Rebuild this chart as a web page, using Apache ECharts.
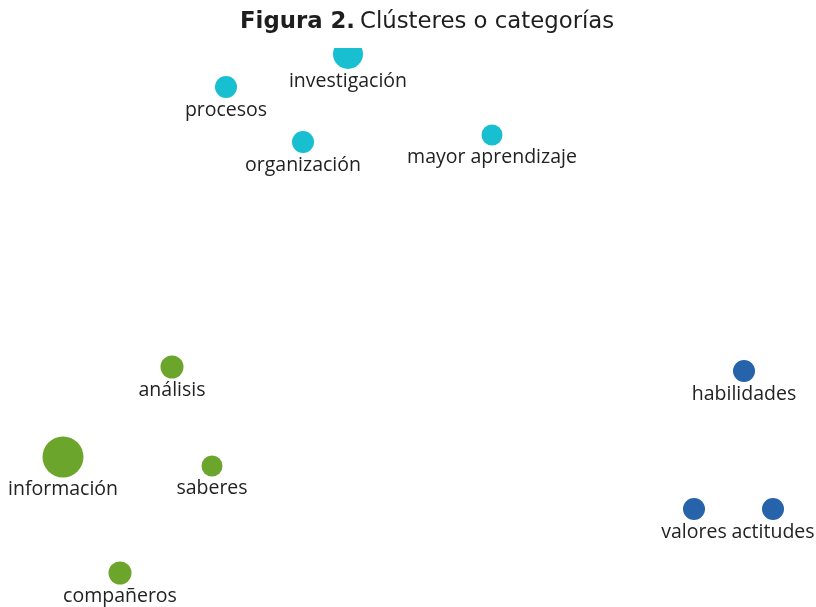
<!DOCTYPE html>
<html>
<head>
<meta charset="utf-8">
<script src="https://cdn.jsdelivr.net/npm/echarts@6/dist/echarts.min.js"></script>
<style>
  html, body { margin: 0; padding: 0; background: #fff; }
  #chart { width: 816px; height: 607px; }
</style>
</head>
<body>
<div id="chart"></div>
<script>
// cluster terms, positions (map space), and bubble weight
const cyanTerms = ['investigación', 'procesos', 'organización', 'mayor aprendizaje'];
const cyanX = [348, 226, 303, 492];
const cyanY = [54, 87, 142, 135];
const cyanW = [30, 22, 22, 21];

const greenTerms = ['análisis', 'información', 'saberes', 'compañeros'];
const greenX = [172, 63, 212, 120];
const greenY = [367, 457, 466, 573];
const greenW = [23, 41, 21, 23];

const blueTerms = ['habilidades', 'valores', 'actitudes'];
const blueX = [744, 694, 773];
const blueY = [371, 509, 509];
const blueW = [22, 22, 22];

const chart = echarts.init(document.getElementById('chart'));

function makeSeries(name, terms, xs, ys, ws, color) {
  return {
    name: name,
    type: 'scatter',
    data: terms.map((t, i) => ({ name: t, value: [xs[i], ys[i], ws[i]] })),
    symbolSize: (v) => v[2],
    itemStyle: { color: color, opacity: 1 },
    label: {
      show: true,
      position: 'bottom',
      distance: 2,
      formatter: '{b}',
      color: '#222',
      fontFamily: 'Open Sans',
      fontSize: 19.5,
    },
    emphasis: { disabled: true },
  };
}

const option = {
  backgroundColor: '#fff',
  animation: false,
  title: {
    text: '{b|Figura 2.} {r|Clústeres o categorías}',
    left: 235,
    top: 6,
    z: 10,
    textStyle: {
      rich: {
        b: { fontFamily: 'DejaVu Sans', fontWeight: 'bold', fontSize: 22.8, color: '#1e1e1e' },
        r: { fontFamily: 'DejaVu Sans', fontWeight: 'normal', fontSize: 22.8, color: '#1e1e1e' },
      },
    },
  },
  // the figure is cut just under the title: the top bubble is clipped flat
  graphic: [{
    type: 'rect',
    z: 8,
    shape: { x: 0, y: 0, width: 816, height: 48 },
    style: { fill: '#fff' },
  }],
  grid: { left: 0, right: 0, top: 49, bottom: 0 },
  xAxis: { type: 'value', min: 0, max: 816, show: false },
  yAxis: { type: 'value', min: 49, max: 607, inverse: true, show: false },
  series: [
    makeSeries('cyan', cyanTerms, cyanX, cyanY, cyanW, '#17bfd0'),
    makeSeries('green', greenTerms, greenX, greenY, greenW, '#6ca52b'),
    makeSeries('blue', blueTerms, blueX, blueY, blueW, '#2763aa'),
  ],
};
chart.setOption(option);
</script>
</body>
</html>
